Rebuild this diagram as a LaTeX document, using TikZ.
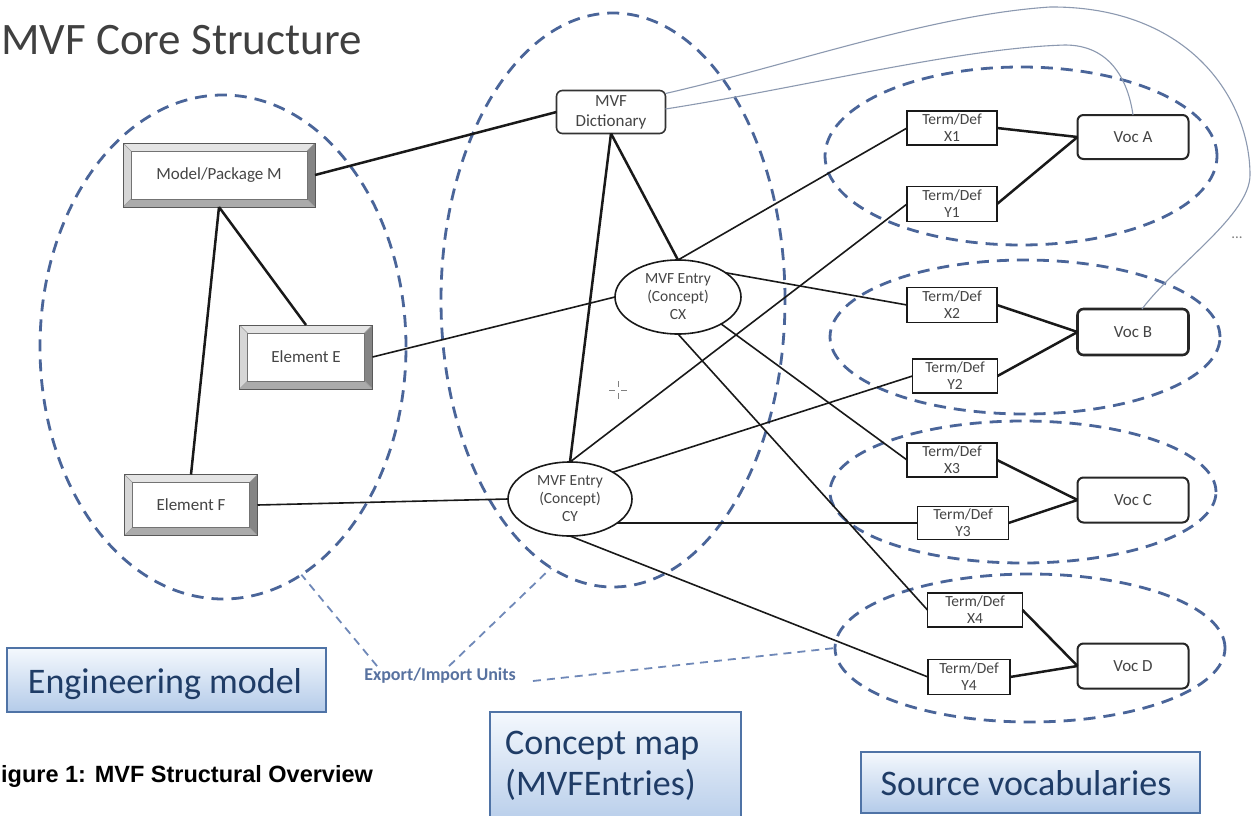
\documentclass[tikz,border=0pt]{standalone}
\usepackage{fontspec}
\setmainfont{Carlito}
\newfontfamily\capfont{Liberation Sans}
\usetikzlibrary{shapes.geometric,calc}

\definecolor{grpblue}{HTML}{4A6599}
\definecolor{linkblue}{HTML}{6F88B8}
\definecolor{curvegray}{HTML}{8C99B0}
\definecolor{txtgray}{HTML}{454545}
\definecolor{titlegray}{HTML}{404040}
\definecolor{lblborder}{HTML}{4F73A6}
\definecolor{lbltext}{HTML}{1F3C66}
\definecolor{lbltop}{HTML}{F4F8FD}
\definecolor{lblfill}{HTML}{B4CBE9}
\definecolor{eitext}{HTML}{5872A0}
\definecolor{bevlight}{HTML}{E4E4E4}
\definecolor{bevleft}{HTML}{D6D6D6}
\definecolor{bevmid}{HTML}{ABABAB}
\definecolor{bevdark}{HTML}{858585}

\begin{document}
\begin{tikzpicture}[x=1pt,y=-1pt,
  group/.style={ellipse, draw=grpblue, line width=2.8pt, dash pattern=on 12pt off 8pt,
    inner sep=0pt, outer sep=0pt},
  bevelbox/.style={rectangle, draw=gray!70!black, line width=0.8pt, fill=white,
    text=txtgray, font=\fontsize{17}{20}\selectfont, inner sep=0pt, outer sep=0pt,
    path picture={
      \coordinate (bnw) at (path picture bounding box.north west);
      \coordinate (bne) at (path picture bounding box.north east);
      \coordinate (bse) at (path picture bounding box.south east);
      \coordinate (bsw) at (path picture bounding box.south west);
      \fill[bevlight] (bnw) -- (bne) -- ([shift={(-8pt,-8pt)}]bne) -- ([shift={(8pt,-8pt)}]bnw) -- cycle;
      \fill[bevdark] (bne) -- (bse) -- ([shift={(-8pt,8pt)}]bse) -- ([shift={(-8pt,-8pt)}]bne) -- cycle;
      \fill[bevmid] (bse) -- (bsw) -- ([shift={(8pt,8pt)}]bsw) -- ([shift={(-8pt,8pt)}]bse) -- cycle;
      \fill[bevleft] (bsw) -- (bnw) -- ([shift={(8pt,-8pt)}]bnw) -- ([shift={(8pt,8pt)}]bsw) -- cycle;
      \draw[gray!80, line width=0.5pt] (bnw) -- ([shift={(8pt,-8pt)}]bnw)
        (bne) -- ([shift={(-8pt,-8pt)}]bne) (bse) -- ([shift={(-8pt,8pt)}]bse)
        (bsw) -- ([shift={(8pt,8pt)}]bsw);
      \draw[gray!90!black, line width=0.6pt] ([shift={(8pt,-8pt)}]bnw) rectangle ([shift={(-8pt,8pt)}]bse);
    }},
  dictbox/.style={rectangle, rounded corners=6pt, draw=black!80, line width=1.6pt, fill=white,
    text=txtgray, font=\fontsize{17}{20}\selectfont, align=center, inner sep=0pt, outer sep=0pt},
  entry/.style={ellipse, draw=black!90, line width=1.6pt, fill=white, text=txtgray,
    font=\fontsize{15.5}{18}\selectfont, align=center, inner sep=0pt, outer sep=0pt},
  termbox/.style={rectangle, draw=black!90, line width=1.5pt, fill=white, text=txtgray,
    font=\fontsize{15.5}{17}\selectfont, align=center, inner sep=0pt, outer sep=0pt},
  vocbox/.style={rectangle, rounded corners=6pt, draw=black!85, line width=2pt, fill=white,
    text=txtgray, font=\fontsize{17}{20}\selectfont, minimum width=111pt, inner sep=0pt, outer sep=0pt},
  heavy/.style={line width=2.5pt, black!90},
  light/.style={line width=1.6pt, black!90},
  curve/.style={line width=1.1pt, curvegray},
  eilink/.style={line width=1.8pt, linkblue, dash pattern=on 8pt off 6pt},
  lblbox/.style={top color=lbltop, bottom color=lblfill, draw=lblborder, line width=1.6pt},
  lbltxt/.style={text=lbltext, font=\fontsize{36}{40}\selectfont, inner sep=0pt},
]
\fill[white] (0,0) rectangle (1255,816);
\useasboundingbox (0,0) rectangle (1255,816);

% title and caption
\node[anchor=base west, inner sep=0pt, text=titlegray, font=\fontsize{45}{50}\selectfont]
  (title) at (1,55) {MVF Core Structure};
\node[anchor=base west, inner sep=0pt, font=\capfont\bfseries\fontsize{23.5}{26}\selectfont]
  (caption) at (1,782) {igure 1: MVF Structural Overview};

% dashed groupings
\node[group, minimum width=366pt, minimum height=504pt] (engr) at (223,347) {};
\node[group, minimum width=344pt, minimum height=574pt] (cmap) at (613,300) {};
\node[group, minimum width=392pt, minimum height=178pt] (grpA) at (1021,156) {};
\node[group, minimum width=390pt, minimum height=154pt] (grpB) at (1025,337) {};
\node[group, minimum width=386pt, minimum height=142pt] (grpC) at (1023,492) {};
\node[group, minimum width=390pt, minimum height=148pt] (grpD) at (1030,648) {};

% engineering model elements
\node[bevelbox, minimum width=192pt, minimum height=64pt] (M) at (219,175) {Model/Package M};
\node[bevelbox, minimum width=133pt, minimum height=64pt] (E) at (306,357) {Element E};
\node[bevelbox, minimum width=133pt, minimum height=61pt] (F) at (191,505) {Element F};

% concept map
\node[dictbox, minimum width=109pt, minimum height=43pt] (dict) at (611,112) {MVF\\Dictionary};
\node[entry, minimum width=126pt, minimum height=74pt] (CX) at (678,297) {MVF Entry\\(Concept)\\CX};
\node[entry, minimum width=124pt, minimum height=74pt] (CY) at (570,499) {MVF Entry\\(Concept)\\CY};

% source vocabulary terms
\node[termbox, minimum width=90pt, minimum height=34pt] (X1) at (952,128) {Term/Def\\X1};
\node[termbox, minimum width=90pt, minimum height=35pt] (Y1) at (952,204) {Term/Def\\Y1};
\node[termbox, minimum width=90pt, minimum height=35pt] (X2) at (952,305) {Term/Def\\X2};
\node[termbox, minimum width=85pt, minimum height=34pt] (Y2) at (955,376) {Term/Def\\Y2};
\node[termbox, minimum width=90pt, minimum height=34pt] (X3) at (952,460) {Term/Def\\X3};
\node[termbox, minimum width=91pt, minimum height=33pt] (Y3) at (963,523) {Term/Def\\Y3};
\node[termbox, minimum width=95pt, minimum height=34pt] (X4) at (975,610) {Term/Def\\X4};
\node[termbox, minimum width=82pt, minimum height=35pt] (Y4) at (969,677) {Term/Def\\Y4};

\node[vocbox, minimum height=44pt] (VocA) at (1133,137) {Voc A};
\node[vocbox, minimum height=46pt, line width=2.6pt] (VocB) at (1133,332) {Voc B};
\node[vocbox, minimum height=45pt] (VocC) at (1133,500) {Voc C};
\node[vocbox, minimum height=45pt] (VocD) at (1133,666) {Voc D};

\node[text=gray, font=\fontsize{15}{16}\selectfont, inner sep=0pt] (more) at (1237,238) {...};

% model structure links
\draw[heavy] (M.east) -- (dict.west);
\draw[heavy] (M.south) -- (E.north);
\draw[heavy] (M.south) -- (F.north);
\draw[light] (E.east) -- (CX.west);
\draw[light] (F.east) -- (CY.west);

% dictionary to entries
\draw[heavy] (dict.south) -- (CY.north);
\draw[heavy] (dict.south) -- (CX.north);

% entries to terms
\draw[light] (CX.north) -- (X1.west);
\draw[light] (CX.27) -- (X2.west);
\draw[light] (CX.-32) -- (X3.west);
\draw[light] (CX.south) -- (X4.west);
\draw[light] (CY.north) -- (Y1.west);
\draw[light] (CY.32) -- (Y2.west);
\draw[light] (CY.-27) -- (Y3.west);
\draw[light] (CY.south) -- (Y4.west);

% terms to vocabularies
\draw[heavy] (X1.east) -- (VocA.west);
\draw[heavy] (Y1.east) -- (VocA.west);
\draw[heavy] (X2.east) -- (VocB.west);
\draw[heavy] (Y2.east) -- (VocB.west);
\draw[heavy] (X3.east) -- (VocC.west);
\draw[heavy] (Y3.east) -- (VocC.west);
\draw[heavy] (X4.east) -- (VocD.west);
\draw[heavy] (Y4.east) -- (VocD.west);

% dictionary references to vocabularies
\draw[curve] ([yshift=-3pt]dict.north east) .. controls (790,65) and (930,15) .. (1050,7)
  .. controls (1190,6) and (1250,100) .. (1250,175)
  .. controls (1250,215) and (1175,265) .. ([xshift=9pt]VocB.north);
\draw[curve] ([yshift=3pt]dict.east) .. controls (800,88) and (960,48) .. (1065,45)
  .. controls (1110,45) and (1128,80) .. (VocA.north);

% cursor mark
\draw[gray, line width=0.8pt] (609,390) -- (615,390) (621,390) -- (627,390)
  (618,381) -- (618,387) (618,393) -- (618,399);

% export / import units
\node[text=eitext, font=\bfseries\fontsize{18}{20}\selectfont, inner sep=2pt] (eiu) at (440,676) {Export/Import Units};
\draw[eilink] ([xshift=15pt]eiu.north west) -- (engr.-71);
\draw[eilink] ([xshift=87pt]eiu.north west) -- (cmap.-103);
\draw[eilink] ([xshift=15pt,yshift=-5pt]eiu.east) -- (grpD.west);

% legend boxes
\path[lblbox] (7,648) rectangle (326,712);
\node[lbltxt, anchor=base] (englbl) at (165,693) {Engineering model};
\path[lblbox] (490,712) rectangle (741,830);
\node[lbltxt, anchor=base west] (cmlbl1) at (505,754) {Concept map};
\node[lbltxt, anchor=base west] (cmlbl2) at (505,795) {(MVFEntries)};
\path[lblbox] (861,752) rectangle (1200,813);
\node[lbltxt, anchor=base] (srclbl) at (1026,795) {Source vocabularies};
\end{tikzpicture}
\end{document}
